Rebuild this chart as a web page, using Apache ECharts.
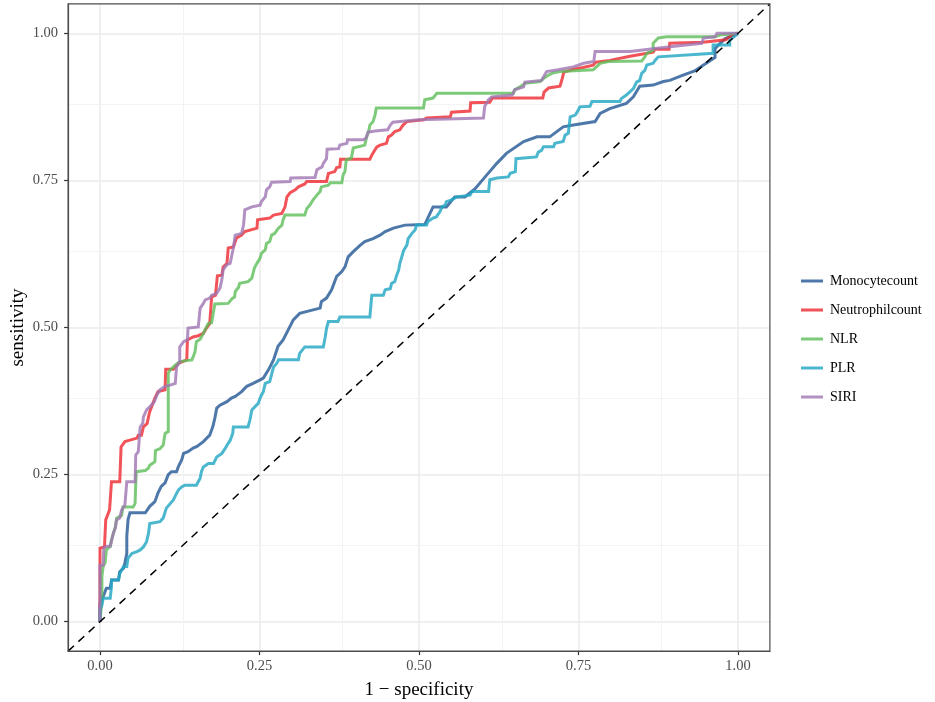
<!DOCTYPE html>
<html><head><meta charset="utf-8">
<script src="https://cdn.jsdelivr.net/npm/echarts@6/dist/echarts.min.js"></script>
<style>html,body{margin:0;padding:0;background:#fff}#c{width:935px;height:702px}</style>
</head><body><div id="c"></div>
<script>
var seriesNames = ['Monocytecount','Neutrophilcount','NLR','PLR','SIRI'];
var seriesColors = ['rgba(38,90,150,0.82)','rgba(238,40,46,0.8)','rgba(92,190,89,0.8)','rgba(35,167,195,0.82)','rgba(159,118,179,0.8)'];
var tickValues = [0, 0.25, 0.5, 0.75, 1];
var tickLabels = ['0.00','0.25','0.50','0.75','1.00'];
var minorTicks = [0.125, 0.375, 0.625, 0.875];

var monocyte = [[0,0],[0,0.031],[0.005,0.043],[0.010,0.057],[0.016,0.057],[0.018,0.071],[0.029,0.071],[0.031,0.085],[0.037,0.091],[0.039,0.100],[0.042,0.116],[0.042,0.145],[0.044,0.174],[0.047,0.185],[0.071,0.185],[0.078,0.196],[0.086,0.204],[0.091,0.219],[0.096,0.230],[0.102,0.236],[0.107,0.250],[0.112,0.255],[0.120,0.255],[0.123,0.264],[0.128,0.275],[0.131,0.286],[0.138,0.289],[0.146,0.295],[0.152,0.298],[0.162,0.306],[0.172,0.317],[0.177,0.332],[0.180,0.346],[0.183,0.363],[0.188,0.368],[0.199,0.374],[0.206,0.380],[0.212,0.383],[0.222,0.391],[0.230,0.400],[0.240,0.405],[0.251,0.411],[0.256,0.414],[0.264,0.428],[0.272,0.445],[0.279,0.468],[0.287,0.479],[0.295,0.496],[0.303,0.513],[0.313,0.524],[0.334,0.530],[0.345,0.533],[0.347,0.544],[0.355,0.550],[0.363,0.564],[0.371,0.587],[0.379,0.595],[0.384,0.603],[0.389,0.620],[0.397,0.629],[0.408,0.640],[0.415,0.646],[0.428,0.651],[0.439,0.657],[0.447,0.663],[0.460,0.669],[0.478,0.674],[0.509,0.675],[0.522,0.705],[0.543,0.705],[0.556,0.722],[0.572,0.722],[0.588,0.736],[0.606,0.759],[0.622,0.779],[0.637,0.796],[0.664,0.816],[0.685,0.824],[0.705,0.824],[0.726,0.841],[0.742,0.844],[0.776,0.850],[0.784,0.864],[0.799,0.872],[0.825,0.881],[0.836,0.892],[0.846,0.910],[0.867,0.912],[0.883,0.918],[0.893,0.920],[0.914,0.929],[0.932,0.936],[0.946,0.946],[0.964,0.959],[0.964,0.974],[0.972,0.983],[0.980,0.991],[1,1]];

var neutrophil = [[0,0],[0,0.125],[0.007,0.127],[0.009,0.173],[0.015,0.190],[0.018,0.193],[0.018,0.238],[0.031,0.238],[0.033,0.297],[0.039,0.306],[0.058,0.312],[0.060,0.317],[0.065,0.317],[0.068,0.331],[0.074,0.337],[0.076,0.348],[0.078,0.357],[0.086,0.380],[0.091,0.391],[0.102,0.394],[0.103,0.429],[0.115,0.429],[0.123,0.439],[0.136,0.445],[0.137,0.479],[0.146,0.484],[0.154,0.486],[0.162,0.490],[0.167,0.499],[0.172,0.507],[0.175,0.552],[0.181,0.555],[0.184,0.588],[0.191,0.589],[0.193,0.603],[0.199,0.609],[0.201,0.635],[0.209,0.637],[0.214,0.652],[0.222,0.657],[0.227,0.663],[0.246,0.669],[0.247,0.683],[0.266,0.686],[0.272,0.691],[0.285,0.694],[0.290,0.705],[0.293,0.722],[0.298,0.729],[0.306,0.734],[0.311,0.739],[0.321,0.744],[0.324,0.748],[0.355,0.748],[0.358,0.762],[0.368,0.765],[0.371,0.772],[0.376,0.773],[0.377,0.786],[0.423,0.786],[0.426,0.793],[0.431,0.802],[0.434,0.807],[0.439,0.810],[0.449,0.813],[0.452,0.824],[0.457,0.827],[0.462,0.833],[0.470,0.836],[0.475,0.844],[0.481,0.850],[0.507,0.853],[0.512,0.856],[0.549,0.858],[0.551,0.866],[0.580,0.868],[0.581,0.882],[0.611,0.883],[0.615,0.890],[0.694,0.890],[0.696,0.900],[0.703,0.907],[0.721,0.910],[0.724,0.921],[0.727,0.934],[0.742,0.939],[0.757,0.942],[0.773,0.946],[0.777,0.951],[0.799,0.954],[0.831,0.961],[0.867,0.968],[0.870,0.973],[0.892,0.973],[0.893,0.983],[0.945,0.985],[0.981,0.989],[0.987,0.994],[1,1]];

var nlr = [[0,0],[0.003,0.037],[0.003,0.077],[0.005,0.094],[0.008,0.100],[0.010,0.122],[0.016,0.128],[0.018,0.139],[0.024,0.161],[0.026,0.176],[0.034,0.181],[0.036,0.195],[0.052,0.195],[0.055,0.201],[0.056,0.235],[0.057,0.255],[0.071,0.257],[0.076,0.261],[0.078,0.266],[0.086,0.272],[0.087,0.291],[0.094,0.294],[0.099,0.300],[0.102,0.320],[0.107,0.323],[0.107,0.422],[0.110,0.428],[0.118,0.436],[0.125,0.442],[0.144,0.445],[0.146,0.450],[0.149,0.459],[0.151,0.476],[0.157,0.480],[0.162,0.490],[0.167,0.501],[0.170,0.507],[0.175,0.508],[0.180,0.540],[0.201,0.541],[0.207,0.549],[0.211,0.552],[0.212,0.561],[0.217,0.568],[0.219,0.575],[0.232,0.578],[0.238,0.584],[0.242,0.601],[0.246,0.609],[0.251,0.618],[0.253,0.626],[0.259,0.632],[0.261,0.643],[0.266,0.646],[0.269,0.657],[0.274,0.660],[0.279,0.668],[0.285,0.674],[0.287,0.683],[0.290,0.691],[0.321,0.691],[0.324,0.702],[0.329,0.708],[0.334,0.717],[0.340,0.725],[0.345,0.731],[0.347,0.739],[0.358,0.742],[0.361,0.746],[0.379,0.746],[0.381,0.759],[0.384,0.765],[0.386,0.785],[0.394,0.788],[0.397,0.805],[0.400,0.808],[0.415,0.810],[0.418,0.824],[0.421,0.833],[0.423,0.844],[0.428,0.850],[0.431,0.861],[0.433,0.873],[0.507,0.873],[0.509,0.887],[0.522,0.890],[0.528,0.898],[0.648,0.898],[0.650,0.904],[0.658,0.909],[0.666,0.915],[0.690,0.918],[0.695,0.923],[0.703,0.929],[0.711,0.933],[0.721,0.935],[0.773,0.938],[0.778,0.943],[0.784,0.949],[0.797,0.952],[0.849,0.953],[0.854,0.960],[0.857,0.966],[0.867,0.971],[0.867,0.983],[0.875,0.992],[0.888,0.994],[0.964,0.994],[0.972,0.997],[1,1]];

var plr = [[0,0],[0,0.020],[0.003,0.028],[0.005,0.040],[0.016,0.040],[0.018,0.059],[0.018,0.071],[0.029,0.071],[0.031,0.082],[0.037,0.094],[0.042,0.094],[0.044,0.108],[0.050,0.116],[0.058,0.119],[0.063,0.122],[0.068,0.127],[0.073,0.136],[0.076,0.150],[0.078,0.167],[0.094,0.170],[0.099,0.176],[0.104,0.193],[0.115,0.207],[0.120,0.218],[0.123,0.224],[0.128,0.229],[0.133,0.232],[0.151,0.232],[0.157,0.244],[0.159,0.255],[0.162,0.263],[0.170,0.269],[0.178,0.269],[0.183,0.280],[0.191,0.286],[0.196,0.294],[0.199,0.300],[0.204,0.308],[0.208,0.320],[0.209,0.331],[0.232,0.331],[0.235,0.343],[0.238,0.360],[0.240,0.363],[0.248,0.371],[0.251,0.380],[0.253,0.385],[0.256,0.391],[0.259,0.405],[0.266,0.408],[0.272,0.433],[0.277,0.439],[0.280,0.445],[0.311,0.445],[0.313,0.456],[0.321,0.467],[0.350,0.467],[0.353,0.484],[0.355,0.498],[0.358,0.510],[0.373,0.510],[0.376,0.518],[0.423,0.518],[0.426,0.555],[0.444,0.555],[0.447,0.564],[0.455,0.566],[0.457,0.575],[0.462,0.578],[0.465,0.589],[0.468,0.597],[0.470,0.609],[0.473,0.620],[0.476,0.631],[0.481,0.640],[0.483,0.651],[0.489,0.660],[0.494,0.666],[0.496,0.674],[0.512,0.674],[0.514,0.680],[0.522,0.686],[0.527,0.688],[0.533,0.697],[0.536,0.705],[0.541,0.708],[0.543,0.714],[0.551,0.717],[0.559,0.722],[0.580,0.725],[0.583,0.731],[0.609,0.731],[0.611,0.751],[0.622,0.754],[0.640,0.756],[0.643,0.762],[0.651,0.765],[0.652,0.787],[0.684,0.790],[0.687,0.798],[0.692,0.801],[0.695,0.807],[0.711,0.807],[0.713,0.813],[0.726,0.816],[0.729,0.827],[0.734,0.830],[0.737,0.858],[0.745,0.861],[0.750,0.870],[0.752,0.875],[0.768,0.876],[0.771,0.884],[0.815,0.884],[0.817,0.889],[0.825,0.895],[0.831,0.901],[0.836,0.906],[0.841,0.917],[0.846,0.920],[0.849,0.932],[0.854,0.937],[0.857,0.946],[0.867,0.949],[0.870,0.954],[0.875,0.960],[0.878,0.963],[0.961,0.966],[0.961,0.980],[0.987,0.980],[0.987,0.988],[1,1]];

var siri = [[0,0],[0,0.096],[0.005,0.096],[0.006,0.126],[0.011,0.128],[0.016,0.128],[0.018,0.137],[0.021,0.151],[0.024,0.159],[0.026,0.173],[0.031,0.176],[0.034,0.190],[0.039,0.198],[0.042,0.238],[0.055,0.238],[0.056,0.283],[0.060,0.289],[0.063,0.331],[0.067,0.337],[0.068,0.348],[0.073,0.360],[0.078,0.365],[0.085,0.374],[0.089,0.385],[0.094,0.394],[0.102,0.400],[0.110,0.402],[0.118,0.405],[0.120,0.433],[0.125,0.442],[0.125,0.467],[0.131,0.476],[0.137,0.479],[0.138,0.499],[0.154,0.501],[0.157,0.533],[0.162,0.541],[0.165,0.547],[0.172,0.550],[0.175,0.555],[0.183,0.558],[0.188,0.567],[0.191,0.581],[0.193,0.598],[0.199,0.607],[0.204,0.609],[0.209,0.635],[0.212,0.657],[0.222,0.660],[0.225,0.674],[0.227,0.700],[0.238,0.705],[0.251,0.708],[0.253,0.714],[0.259,0.722],[0.261,0.734],[0.266,0.739],[0.269,0.747],[0.298,0.748],[0.299,0.754],[0.337,0.755],[0.340,0.768],[0.348,0.773],[0.350,0.779],[0.355,0.787],[0.356,0.803],[0.374,0.804],[0.376,0.810],[0.387,0.813],[0.388,0.819],[0.413,0.819],[0.417,0.822],[0.420,0.832],[0.431,0.834],[0.451,0.836],[0.455,0.844],[0.459,0.849],[0.499,0.853],[0.502,0.856],[0.601,0.856],[0.603,0.876],[0.609,0.887],[0.614,0.892],[0.646,0.895],[0.650,0.904],[0.664,0.909],[0.666,0.917],[0.692,0.920],[0.700,0.935],[0.718,0.938],[0.742,0.943],[0.758,0.949],[0.774,0.952],[0.776,0.969],[0.831,0.969],[0.893,0.977],[0.943,0.983],[0.946,0.992],[0.964,0.994],[0.967,1],[1,1]];

var diagonal = [[-0.05,-0.05],[1.05,1.05]];
var allData = [monocyte, neutrophil, nlr, plr, siri];

var chart = echarts.init(document.getElementById('c'), null, {renderer:'canvas'});
var serif = '"Liberation Serif", "Times New Roman", serif';

var gridLines = [];
tickValues.forEach(function(v){
  gridLines.push({xAxis:v, lineStyle:{color:'#EBEBEB', width:1.5, type:'solid'}});
  gridLines.push({yAxis:v, lineStyle:{color:'#EBEBEB', width:1.5, type:'solid'}});
});
minorTicks.forEach(function(v){
  gridLines.push({xAxis:v, lineStyle:{color:'#F2F2F2', width:0.9, type:'solid'}});
  gridLines.push({yAxis:v, lineStyle:{color:'#F2F2F2', width:0.9, type:'solid'}});
});

var series = [{
  type:'line', name:'_grid', xAxisIndex:0, yAxisIndex:0, data:[], silent:true, z:0,
  markLine:{silent:true, z:0, symbol:['none','none'], label:{show:false}, animation:false, data:gridLines}
}];
allData.forEach(function(d,i){
  series.push({type:'line', name:seriesNames[i], xAxisIndex:0, yAxisIndex:0, data:d,
    showSymbol:false, symbol:'none', z:2+i,
    lineStyle:{color:seriesColors[i], width:3, join:'miter'}, itemStyle:{color:seriesColors[i]}});
});
series.push({type:'line', name:'_diag', xAxisIndex:0, yAxisIndex:0, data:diagonal, showSymbol:false, symbol:'none', z:10,
  lineStyle:{color:'#000', width:1.5, type:[8,6]}});

function fmt(v){ var k = tickValues.indexOf(Math.round(v*1000)/1000); return k >= 0 ? tickLabels[k] : ''; }

chart.setOption({
  animation:false,
  backgroundColor:'#fff',
  grid:[
    {left:68.1, right:165.1, top:3.9, bottom:50.9, show:true, containLabel:false, outerBoundsMode:'none',
     borderColor:'#4d4d4d', borderWidth:1.2, backgroundColor:'transparent', z:20}
  ],
  xAxis:[{type:'value', min:-0.05, max:1.05,
    name:'1 \u2212 specificity', nameLocation:'middle', nameGap:29, nameMoveOverlap:false,
    nameTextStyle:{fontFamily:serif, fontSize:19, color:'#000'},
    axisLine:{show:true, onZero:false, lineStyle:{color:'#4d4d4d', width:1.2}}, splitLine:{show:false},
    axisTick:{show:true, inside:false, length:4, customValues:tickValues, lineStyle:{color:'#333', width:1.2}},
    axisLabel:{show:true, margin:8, customValues:tickValues, fontFamily:serif, fontSize:14.5, color:'#4d4d4d', formatter:fmt}
  }],
  yAxis:[{type:'value', min:-0.05, max:1.05,
    name:'sensitivity', nameLocation:'middle', nameGap:41, nameMoveOverlap:false,
    nameTextStyle:{fontFamily:serif, fontSize:19, color:'#000'},
    axisLine:{show:true, onZero:false, lineStyle:{color:'#4d4d4d', width:1.2}}, splitLine:{show:false},
    axisTick:{show:true, inside:false, length:4, customValues:tickValues, lineStyle:{color:'#333', width:1.2}},
    axisLabel:{show:true, margin:10, customValues:tickValues, fontFamily:serif, fontSize:14.5, color:'#4d4d4d', formatter:fmt}
  }],
  legend:{
    data:seriesNames, orient:'vertical', left:796, top:269, itemWidth:22, itemHeight:3,
    itemGap:15, icon:'rect',
    textStyle:{fontFamily:serif, fontSize:14, color:'#000', padding:[0,0,0,2]}
  },
  series:series
});
</script></body></html>
